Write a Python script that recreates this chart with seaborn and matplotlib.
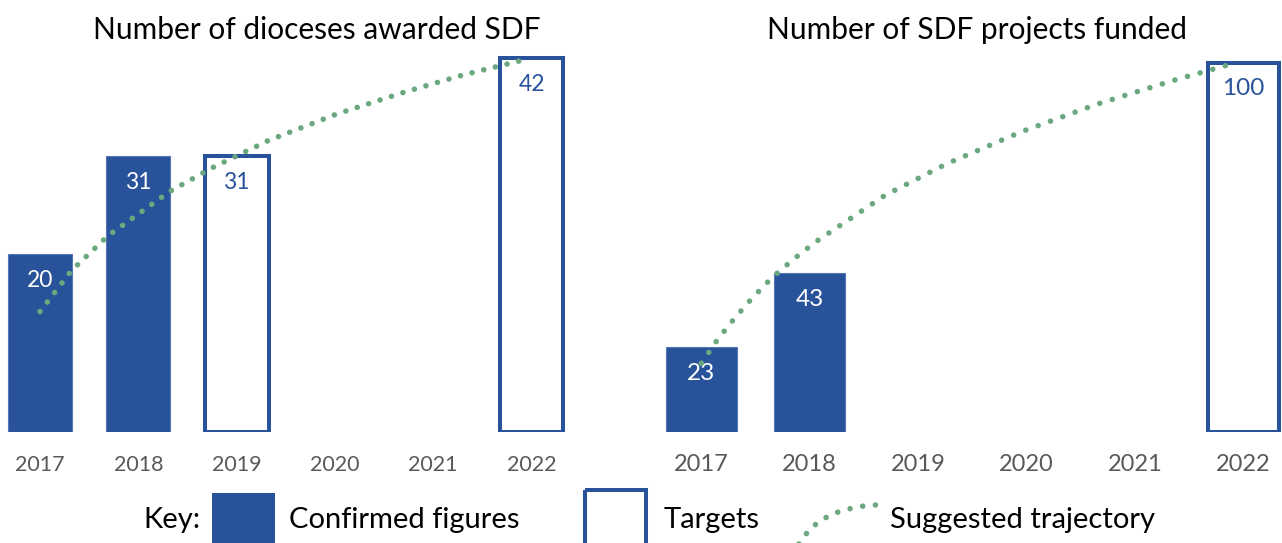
import numpy as np
import pandas as pd
import matplotlib
matplotlib.use("Agg")
import matplotlib.pyplot as plt
import seaborn as sns
from matplotlib.patches import Rectangle

# ---------------- data ----------------
years = ["2017", "2018", "2019", "2020", "2021", "2022"]

dio_title = "Number of dioceses awarded SDF"
dio_confirmed_years = ["2017", "2018"]
dio_confirmed = [20, 31]
dio_target_years = ["2019", "2022"]
dio_target = [31, 42]
dio_traj_years = [2017.0, 2017.32, 2017.69, 2018.32, 2018.76, 2019.32, 2020.02, 2020.72, 2021.31, 2021.93]
dio_traj = [13.5, 18.1, 22.0, 27.0, 29.7, 32.7, 35.7, 38.2, 40.1, 41.8]

proj_title = "Number of SDF projects funded"
proj_confirmed_years = ["2017", "2018"]
proj_confirmed = [23, 43]
proj_target_years = ["2022"]
proj_target = [100]
proj_traj_years = [2017.0, 2017.15, 2017.31, 2017.48, 2017.66, 2017.86, 2018.06, 2018.70,
                   2019.26, 2019.95, 2020.65, 2021.35, 2021.95]
proj_traj = [18.5, 24.9, 30.8, 36.5, 41.9, 46.9, 51.5, 64.1, 72.5, 81.2, 88.7, 95.1, 100.1]

key_labels = ["Key:", "Confirmed figures", "Targets", "Suggested trajectory"]

# ---------------- style ----------------
BLUE = "#28529A"
GREEN = "#6BA880"
GREY = "#595959"
W, H = 1282, 543

sns.set_theme(style="white")
plt.rcParams["font.family"] = ["Lato", "DejaVu Sans"]

fig = plt.figure(figsize=(W / 100, H / 100), dpi=100)

# key axes in pixel coordinates (drawn underneath)
kax = fig.add_axes([0, 0, 1, 1], zorder=0)
kax.set_xlim(0, W)
kax.set_ylim(H, 0)
kax.axis("off")


def px_axes(left_px, right_px, base_px, top_px):
    return fig.add_axes([left_px / W, (H - base_px) / H,
                         (right_px - left_px) / W, (base_px - top_px) / H], zorder=2)


def panel(ax, cy, cv, ty, tv, trx, trv, ymax, label_fs, tick_fs, dash, pad):
    ax.patch.set_alpha(0)
    sns.barplot(x=cy, y=cv, order=years, color=BLUE, saturation=1, width=0.65,
                linewidth=0.8, edgecolor="#5577b5", ax=ax)
    sns.barplot(x=ty, y=tv, order=years, color=BLUE, saturation=1, width=0.65,
                fill=False, linewidth=2.9, ax=ax)
    for y, v in zip(cy, cv):
        ax.annotate(str(v), (years.index(y), v), xytext=(0, -19), textcoords="offset points",
                    ha="center", va="center", color="white", fontsize=label_fs)
    for y, v in zip(ty, tv):
        ax.annotate(str(v), (years.index(y), v), xytext=(0, -19), textcoords="offset points",
                    ha="center", va="center", color=BLUE, fontsize=label_fs)
    pos = np.array(trx) - int(years[0])
    sns.lineplot(x=pos, y=trv, ax=ax, color=GREEN, linewidth=4.0, sort=False,
                 estimator=None, linestyle=(0, (0.01, dash)), dash_capstyle="round",
                 solid_capstyle="round", zorder=5)
    ax.set_xlim(-0.4, 5.6)
    ax.set_ylim(0, ymax)
    ax.set_xlabel("")
    ax.set_ylabel("")
    ax.set_yticks([])
    ax.tick_params(axis="x", length=0, pad=pad, labelsize=tick_fs, labelcolor=GREY)
    sns.despine(ax=ax, left=True, bottom=True)


# left panel: 2017 centre at 40px, spacing 98.3px, baseline 431.7px, 8.9 px/unit
axL = px_axes(40 - 0.4 * 98.3, 40 + 5.6 * 98.3, 431.7, 431.7 - 46 * 8.9)
panel(axL, dio_confirmed_years, dio_confirmed, dio_target_years, dio_target,
      dio_traj_years, dio_traj, 46, 16.5, 15.5, 2.15, 16.5)

# right panel: 2017 centre at 701.3px, spacing 108.4px, baseline 431.5px, 3.69 px/unit
axR = px_axes(701.3 - 0.4 * 108.4, 701.3 + 5.6 * 108.4, 431.5, 431.5 - 110 * 3.69)
panel(axR, proj_confirmed_years, proj_confirmed, proj_target_years, proj_target,
      proj_traj_years, proj_traj, 110, 17.5, 17, 2.35, 16.5)

fig.text(317 / W, 1 - 30 / H, dio_title, ha="center", va="center", fontsize=21.5, color="black")
fig.text(977 / W, 1 - 30 / H, proj_title, ha="center", va="center", fontsize=21.5, color="black")

# ---------------- key ----------------
kax.text(172, 520, key_labels[0], ha="center", va="center", fontsize=21, color="black")
kax.add_patch(Rectangle((212, 493), 63, 70, facecolor=BLUE, edgecolor="none"))
kax.text(289, 520, key_labels[1], ha="left", va="center", fontsize=21, color="black")
kax.add_patch(Rectangle((585, 490), 61, 70, facecolor="none", edgecolor=BLUE, linewidth=2.9))
kax.text(664, 520, key_labels[2], ha="left", va="center", fontsize=21, color="black")
kax.plot([792, 800.7, 809, 821, 836, 851.3, 867.3, 884],
         [553, 541.7, 530, 520, 512.7, 508.3, 505.3, 504.7],
         color=GREEN, linewidth=4.0, linestyle=(0, (0.01, 2.3)), dash_capstyle="round")
kax.text(890, 520, key_labels[3], ha="left", va="center", fontsize=21, color="black")

fig.savefig("out.png", dpi=100)
